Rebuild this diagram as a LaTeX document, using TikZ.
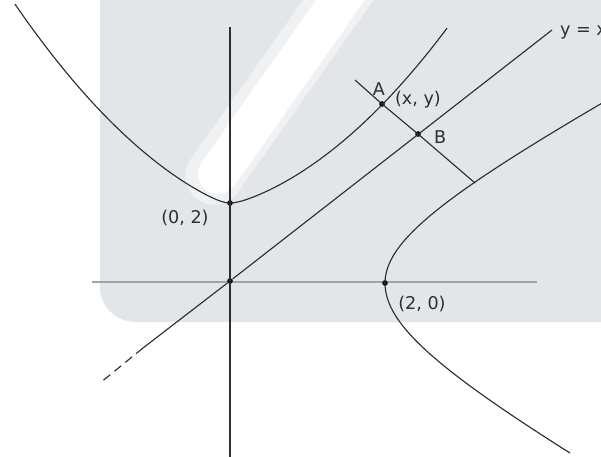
\documentclass[tikz,border=0pt]{standalone}
\usepackage{fontspec}
\setsansfont{DejaVu Sans}
\usetikzlibrary{positioning}
\definecolor{panelgray}{HTML}{E3E6E9}
\definecolor{axisgray}{HTML}{A0A3A6}
\definecolor{inkgray}{HTML}{2E2E2E}

\begin{document}
\begin{tikzpicture}[x=0.02cm,y=-0.02cm,
 curve/.style={draw=inkgray,line width=0.65pt},
 dot/.style={circle,fill=black,inner sep=0pt,minimum size=3.2pt},
 lbl/.style={font=\sffamily\fontsize{10}{12}\selectfont,text=inkgray,inner sep=1pt}]
\useasboundingbox (0,0) rectangle (601,456);
\fill[panelgray,rounded corners=0.7cm] (100,-40) rectangle (660,322);
\draw[white,opacity=0.45,line width=1.15cm,line cap=round] (214,176) -- (356,-25);
\draw[white,line width=0.8cm,line cap=round] (218,174) -- (358,-25);
\draw[axisgray,line width=1.7pt] (92,282) -- (537,282);
\node[dot] (O) at (230,281) {};
\node[dot] (V02) at (230,203) {};
\node[dot] (V20) at (385,283) {};
\node[dot] (A) at (382,104) {};
\node[dot] (B) at (418,134) {};
\coordinate (ytop) at (230,27);
\coordinate (ybot) at (230,460);
\coordinate (diagend) at (552,30);
\coordinate (diagmid) at (143,348);
\coordinate (diagtail) at (100,383);
\coordinate (perpstart) at (355,80);
\coordinate (perpend) at (475,183);
\draw[curve] (ytop) -- (ybot);
\draw[curve] (O) -- (diagend);
\draw[curve] (O) -- (diagmid);
\draw[curve,dashed,dash pattern=on 5pt off 3pt] (diagmid) -- (diagtail);
\draw[curve] (perpstart) -- (A.center) -- (B.center) -- (perpend);
\draw[curve] plot[domain=-21.5:0,samples=50,variable=\t]
 ({230+10*\t},{203-4.35*(sqrt(\t*\t+1)-1)-0.237*\t*\t})
 -- plot[domain=0:21.7,samples=50,variable=\t]
 ({230+10*\t},{203-3.05*(sqrt(\t*\t+1)-1)-0.237*\t*\t});
\draw[curve] plot[domain=-17:0,samples=40,variable=\v]
 ({230+10*sqrt(240.25+(1.78*\v)^2)},{283-10*\v})
 -- plot[domain=0:18.5,samples=40,variable=\v]
 ({230+10*sqrt(240.25+(1.88*\v)^2)},{283-10*\v});
\node[lbl] (Albl) at (379,89) {A};
\node[lbl,anchor=west] (Axy) at (393,100) {(x, y)};
\node[lbl,anchor=west] (Blbl) at (432,137) {B};
\node[lbl] (V02lbl) at (185,218) {(0, 2)};
\node[lbl] (V20lbl) at (422,304) {(2, 0)};
\node[lbl,anchor=west] (yxlbl) at (558,33) {y = x};
\end{tikzpicture}
\end{document}
